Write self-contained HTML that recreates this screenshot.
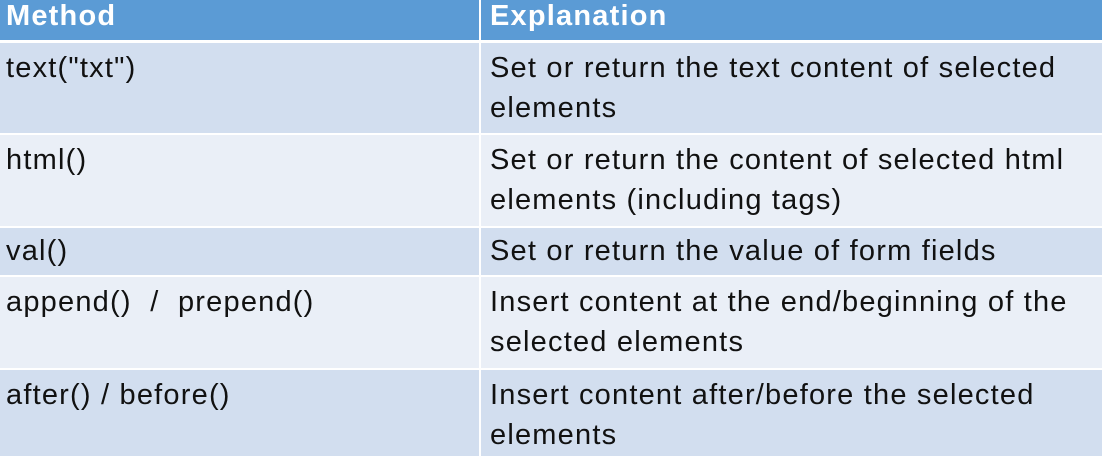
<!DOCTYPE html>
<html><head><meta charset="utf-8"><style>
html,body{margin:0;padding:0;width:1102px;height:456px;overflow:hidden;background:#fff;font-family:"Liberation Sans",sans-serif;}
.r{position:absolute;left:0;width:1102px;}
.c{position:absolute;top:0;bottom:0;box-sizing:border-box;padding-left:6px;font-size:29px;letter-spacing:1.2px;line-height:40px;color:#111;white-space:nowrap;}
.c1{left:0;width:479px;}
.c2{left:481px;width:621px;padding-left:9px;}
.h .c{color:#fff;font-weight:bold;line-height:32px;}
</style></head><body>
<div class="r h" style="top:0;height:40px;background:#5b9bd5;"><div class="c c1">Method</div><div class="c c2" style="border-left:2px solid #fff;left:479px">Explanation</div></div>
<div class="r" style="top:43px;height:90px;background:#d2deef;"><div class="c c1" style="padding-top:5px">text("txt")</div><div class="c c2" style="padding-top:5px">Set or return the text content of selected<br>elements</div></div>
<div class="r" style="top:135px;height:91px;background:#eaeff7;"><div class="c c1" style="padding-top:5px">html()</div><div class="c c2" style="padding-top:5px">Set or return the content of selected html<br>elements (including tags)</div></div>
<div class="r" style="top:228px;height:47px;background:#d2deef;"><div class="c c1" style="padding-top:3px">val()</div><div class="c c2" style="padding-top:3px">Set or return the value of form fields</div></div>
<div class="r" style="top:277px;height:91px;background:#eaeff7;"><div class="c c1" style="padding-top:5px">append()&nbsp; /&nbsp; prepend()</div><div class="c c2" style="padding-top:5px">Insert content at the end/beginning of the<br>selected elements</div></div>
<div class="r" style="top:370px;height:86px;background:#d2deef;"><div class="c c1" style="padding-top:5px">after() / before()</div><div class="c c2" style="padding-top:5px">Insert content after/before the selected<br>elements</div></div>
<div style="position:absolute;left:479px;top:40px;width:2px;height:416px;background:#fff;"></div>
</body></html>
